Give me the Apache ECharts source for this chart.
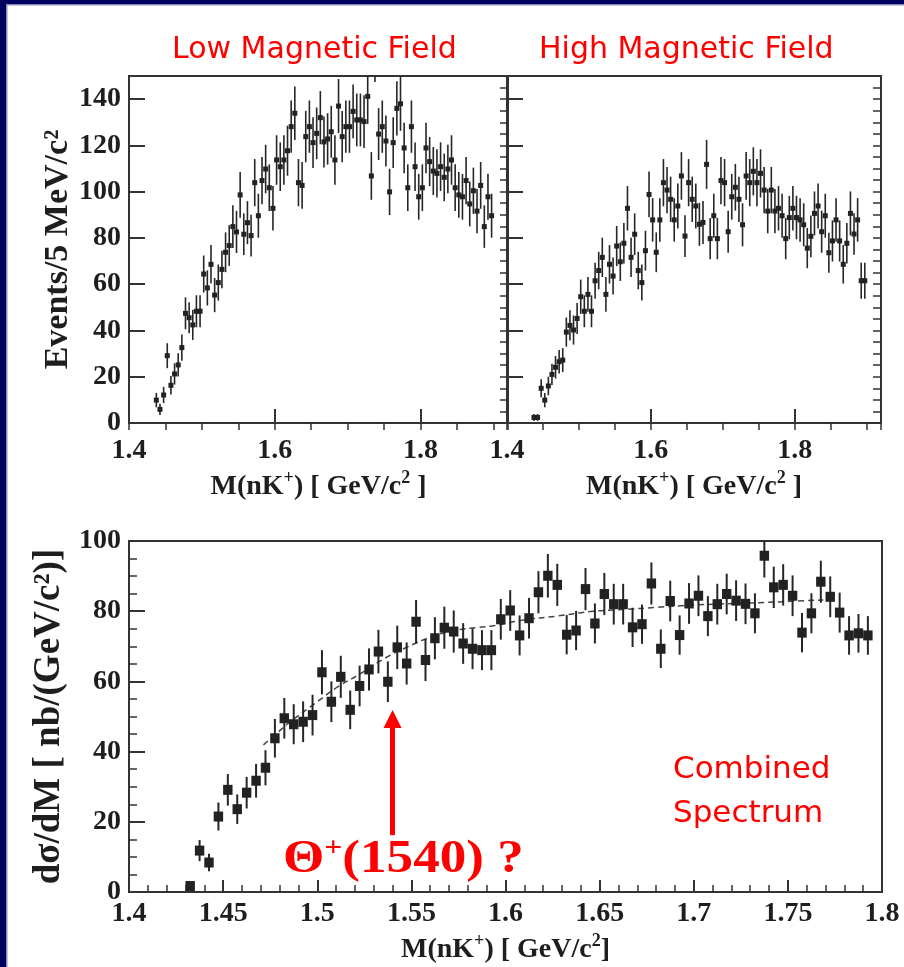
<!DOCTYPE html>
<html lang="en">
  <head>
    <meta charset="UTF-8">
    <title>nK+ invariant mass</title>
    <style>
      html, body { margin: 0; padding: 0; background: #fff; }
      .chart { width: 904px; height: 967px; }
    </style>
  </head>
  <body>
    <div id="chart" class="chart"></div>
    <script src="https://cdn.jsdelivr.net/npm/echarts@6/dist/echarts.min.js"></script>
    <script type="text/javascript">
      // bin centres (GeV/c^2), 5 MeV bins, shared by the two top panels
      var binCentres = [
        1.4375, 1.4425, 1.4475, 1.4525, 1.4575, 1.4625, 1.4675, 1.4725, 1.4775, 1.4825,
        1.4875, 1.4925, 1.4975, 1.5025, 1.5075, 1.5125, 1.5175, 1.5225, 1.5275, 1.5325,
        1.5375, 1.5425, 1.5475, 1.5525, 1.5575, 1.5625, 1.5675, 1.5725, 1.5775, 1.5825,
        1.5875, 1.5925, 1.5975, 1.6025, 1.6075, 1.6125, 1.6175, 1.6225, 1.6275, 1.6325,
        1.6375, 1.6425, 1.6475, 1.6525, 1.6575, 1.6625, 1.6675, 1.6725, 1.6775, 1.6825,
        1.6875, 1.6925, 1.6975, 1.7025, 1.7075, 1.7125, 1.7175, 1.7225, 1.7275, 1.7325,
        1.7375, 1.7425, 1.7475, 1.7525, 1.7575, 1.7625, 1.7675, 1.7725, 1.7775, 1.7825,
        1.7875, 1.7925, 1.7975, 1.8025, 1.8075, 1.8125, 1.8175, 1.8225, 1.8275, 1.8325,
        1.8375, 1.8425, 1.8475, 1.8525, 1.8575, 1.8625, 1.8675, 1.8725, 1.8775, 1.8825,
        1.8875, 1.8925, 1.8975
      ];
      // events / 5 MeV, low magnetic field
      var lowField = [
        9.9, 5.9, 12.1, 29.1, 16.3, 21.2, 25.1, 32.6, 47.4, 45.5,
        42.4, 48.3, 48.3, 64.4, 58.4, 68.6, 55.3, 60.7, 66.4, 73.8,
        76.7, 84.9, 82.6, 98.6, 81.6, 86.6, 81.0, 103.9, 89.6, 104.8,
        109.8, 101.7, 92.8, 113.7, 110.8, 113.7, 117.7, 128.1, 133.9, 103.9,
        102.7, 123.8, 128.1, 121.2, 125.2, 132.0, 121.5, 122.8, 125.9, 113.7,
        137.0, 123.8, 128.1, 128.1, 134.7, 131.0, 131.0, 130.3, 141.2, 106.8,
        160.0, 124.9, 128.1, 121.9, 99.9, 121.2, 136.0, 138.0, 118.9, 101.7,
        128.1, 110.8, 97.8, 101.7, 118.9, 113.0, 108.9, 107.9, 110.8, 106.2,
        109.8, 113.7, 101.7, 98.6, 97.8, 104.8, 94.7, 100.4, 91.6, 102.7,
        84.9, 97.8, 89.6
      ];
      var lowFieldErr = [
        3.1, 2.4, 3.5, 5.4, 4.0, 4.6, 5.0, 5.7, 6.9, 6.7,
        6.5, 6.9, 6.9, 8.0, 7.6, 8.3, 7.4, 7.8, 8.1, 8.6,
        8.8, 9.2, 9.1, 9.9, 9.0, 9.3, 9.0, 10.2, 9.5, 10.2,
        10.5, 10.1, 9.6, 10.7, 10.5, 10.7, 10.8, 11.3, 11.6, 10.2,
        10.1, 11.1, 11.3, 11.0, 11.2, 11.5, 11.0, 11.1, 11.2, 10.7,
        11.7, 11.1, 11.3, 11.3, 11.6, 11.4, 11.4, 11.4, 11.9, 10.3,
        12.6, 11.2, 11.3, 11.0, 10.0, 11.0, 11.7, 11.7, 10.9, 10.1,
        11.3, 10.5, 9.9, 10.1, 10.9, 10.6, 10.4, 10.4, 10.5, 10.3,
        10.5, 10.7, 10.1, 9.9, 9.9, 10.2, 9.7, 10.0, 9.6, 10.1,
        9.2, 9.9, 9.5
      ];
      // events / 5 MeV, high magnetic field
      var highField = [
        2.4, 2.4, 15.0, 9.9, 16.0, 21.0, 24.1, 26.5, 27.2, 39.3,
        42.2, 40.2, 45.2, 54.6, 48.3, 55.6, 48.3, 61.5, 65.9, 71.6,
        55.6, 68.6, 63.5, 76.5, 69.7, 77.7, 92.8, 71.6, 81.6, 65.9,
        60.7, 74.5, 98.8, 87.8, 73.8, 87.8, 103.9, 100.7, 96.7, 87.8,
        93.8, 106.8, 80.8, 103.9, 96.7, 93.8, 85.9, 86.7, 111.8, 79.7,
        89.6, 79.7, 104.8, 103.9, 82.7, 97.8, 101.9, 96.7, 85.7, 106.8,
        103.9, 108.8, 103.9, 107.9, 100.7, 91.6, 100.7, 91.6, 92.8, 89.6,
        79.7, 88.8, 92.8, 88.8, 87.8, 85.7, 75.6, 80.7, 90.6, 93.8,
        82.7, 89.6, 73.6, 78.7, 87.8, 78.7, 68.6, 77.7, 90.6, 81.7,
        87.8, 61.5, 61.5
      ];
      var highFieldErr = [
        1.5, 1.5, 3.9, 3.1, 4.0, 4.6, 4.9, 5.1, 5.2, 6.3,
        6.5, 6.3, 6.7, 7.4, 6.9, 7.5, 6.9, 7.8, 8.1, 8.5,
        7.5, 8.3, 8.0, 8.7, 8.3, 8.8, 9.6, 8.5, 9.0, 8.1,
        7.8, 8.6, 9.9, 9.4, 8.6, 9.4, 10.2, 10.0, 9.8, 9.4,
        9.7, 10.3, 9.0, 10.2, 9.8, 9.7, 9.3, 9.3, 10.6, 8.9,
        9.5, 8.9, 10.2, 10.2, 9.1, 9.9, 10.1, 9.8, 9.3, 10.3,
        10.2, 10.4, 10.2, 10.4, 10.0, 9.6, 10.0, 9.6, 9.6, 9.5,
        8.9, 9.4, 9.6, 9.4, 9.4, 9.3, 8.7, 9.0, 9.5, 9.7,
        9.1, 9.5, 8.6, 8.9, 9.4, 8.9, 8.3, 8.8, 9.5, 9.0,
        9.4, 7.8, 7.8
      ];
      // combined spectrum, d(sigma)/dM in nb/(GeV/c^2)
      var combMass = [
        1.4325, 1.4375, 1.4425, 1.4475, 1.4525, 1.4575, 1.4625, 1.4675, 1.4725, 1.4775,
        1.4825, 1.4875, 1.4925, 1.4975, 1.5025, 1.5075, 1.5125, 1.5175, 1.5225, 1.5275,
        1.5325, 1.5375, 1.5425, 1.5475, 1.5525, 1.5575, 1.5625, 1.5675, 1.5725, 1.5775,
        1.5825, 1.5875, 1.5925, 1.5975, 1.6025, 1.6075, 1.6125, 1.6175, 1.6225, 1.6275,
        1.6325, 1.6375, 1.6425, 1.6475, 1.6525, 1.6575, 1.6625, 1.6675, 1.6725, 1.6775,
        1.6825, 1.6875, 1.6925, 1.6975, 1.7025, 1.7075, 1.7125, 1.7175, 1.7225, 1.7275,
        1.7325, 1.7375, 1.7425, 1.7475, 1.7525, 1.7575, 1.7625, 1.7675, 1.7725, 1.7775,
        1.7825, 1.7875, 1.7925
      ];
      var combXsec = [
        1.7, 11.8, 8.4, 21.5, 29.1, 23.6, 28.3, 31.7, 35.4, 43.8,
        49.5, 47.8, 48.5, 50.4, 62.6, 54.2, 61.3, 51.9, 58.7, 63.4,
        68.5, 59.9, 69.7, 65.1, 77.0, 66.1, 72.3, 75.3, 74.2, 70.8,
        69.3, 68.9, 68.9, 77.7, 80.2, 73.1, 78.0, 85.4, 90.1, 87.5,
        73.3, 74.5, 86.3, 76.5, 84.9, 82.0, 82.0, 75.4, 76.3, 87.9,
        69.3, 82.9, 73.2, 82.2, 84.4, 78.6, 82.0, 84.9, 83.0, 82.1,
        79.4, 95.8, 86.8, 87.5, 84.4, 73.9, 79.4, 88.4, 84.1, 79.6,
        73.1, 73.7, 73.1
      ];
      var combErr = [
        0.8, 3.0, 2.5, 4.0, 4.5, 4.2, 4.5, 4.8, 5.0, 5.5,
        5.8, 5.7, 5.8, 5.8, 6.3, 5.8, 6.0, 5.5, 5.8, 6.0,
        6.2, 5.8, 6.2, 6.0, 6.2, 6.0, 6.0, 6.0, 6.0, 5.8,
        5.8, 5.7, 5.7, 5.8, 5.8, 5.7, 5.8, 6.0, 6.2, 6.0,
        5.6, 5.6, 6.0, 5.7, 6.0, 5.8, 5.8, 5.6, 5.6, 6.0,
        5.5, 5.8, 5.6, 5.8, 5.8, 5.7, 5.8, 5.8, 5.8, 5.8,
        5.7, 6.2, 5.9, 5.9, 5.8, 5.6, 5.7, 6.0, 5.8, 5.7,
        5.5, 5.5, 5.5
      ];
      // dashed background fit
      var fitMass = [1.4714, 1.4785, 1.4857, 1.50, 1.511, 1.5217, 1.5359, 1.5483, 1.5607, 1.5731, 1.5855,
                     1.5943, 1.6095, 1.6272, 1.645, 1.6626, 1.6803, 1.698, 1.7157, 1.7334, 1.7511, 1.7688];
      var fitXsec = [41.9, 45.2, 48.5, 54.2, 58.5, 61.8, 66.6, 69.9, 72.7, 74.5, 75.4,
                     75.9, 77.5, 78.6, 79.9, 80.5, 81.1, 81.7, 82.1, 82.4, 82.8, 83.2];
      // Theta+ arrow (mass, from, to)
      var thetaMass = 1.54;
      var arrowRange = [16.2, 49.3];

      var chart = echarts.init(document.getElementById('chart'));

      var serif = 'Liberation Serif';
      var ink = '#1e1e1e';
      var labelStyle = { fontFamily: serif, fontWeight: 'bold', fontSize: 28, color: ink };
      var supRich = { sup: { fontFamily: serif, fontWeight: 'bold', fontSize: 18, lineHeight: 18, verticalAlign: 'top', color: ink } };

      function zip3(xs, ys, es) {
        return xs.map(function (x, i) { return [x, ys[i], es[i]]; });
      }

      // square marker + vertical error bar; boxW in px (0 = one bin wide)
      function errRender(boxW, boxH, lineW, halfBin) {
        return function (params, api) {
          var x = api.value(0), y = api.value(1), e = api.value(2);
          var c = api.coord([x, y]);
          var l = api.coord([x - halfBin, y]);
          var r = api.coord([x + halfBin, y]);
          var t = api.coord([x, y + e]);
          var b = api.coord([x, y - e]);
          var w = boxW || (r[0] - l[0]);
          return {
            type: 'group',
            children: [
              { type: 'line', shape: { x1: c[0], y1: t[1], x2: c[0], y2: b[1] },
                style: { stroke: '#262626', lineWidth: lineW } },
              { type: 'rect', shape: { x: c[0] - w / 2, y: c[1] - boxH / 2, width: w, height: boxH },
                style: { fill: '#222' } }
            ]
          };
        };
      }

      function topXFmt(v) {
        var r = Math.round(v * 10) / 10;
        if (Math.abs(v - r) > 1e-6 || Math.round(r * 10) % 2 !== 0) return '';
        return r.toFixed(1);
      }
      function topYFmt(v) {
        return Math.round(v) % 20 === 0 ? String(Math.round(v)) : '';
      }

      function majorX(grid, showLabel, name) {
        return {
          type: 'value', gridIndex: grid, min: 1.4, max: 1.92, interval: 0.2,
          axisLine: { show: false }, splitLine: { show: false },
          axisTick: { inside: true, length: 14, lineStyle: { color: '#333', width: 2 } },
          axisLabel: Object.assign({ show: showLabel, margin: 14, formatter: topXFmt }, labelStyle),
          name: name, nameLocation: 'middle', nameGap: 46,
          nameTextStyle: Object.assign({ lineHeight: 36, rich: supRich }, labelStyle)
        };
      }
      function minorX(grid) {
        return {
          type: 'value', gridIndex: grid, min: 1.4, max: 1.92, interval: 0.05,
          axisLine: { show: false }, splitLine: { show: false }, axisLabel: { show: false },
          axisTick: { inside: true, length: 7, lineStyle: { color: '#333', width: 1.5 } }
        };
      }
      function majorY(grid, showLabel, name) {
        return {
          type: 'value', gridIndex: grid, min: 0, max: 150, interval: 20,
          axisLine: { show: false }, splitLine: { show: false },
          axisTick: { inside: true, length: 16, lineStyle: { color: '#333', width: 2 } },
          axisLabel: Object.assign({ show: showLabel, margin: 8, formatter: topYFmt }, labelStyle),
          name: name, nameLocation: 'middle', nameRotate: 90, nameGap: 54,
          nameTextStyle: Object.assign({}, labelStyle, { fontSize: 34 })
        };
      }
      function minorY(grid) {
        return {
          type: 'value', gridIndex: grid, min: 0, max: 150, interval: 5,
          axisLine: { show: false }, splitLine: { show: false }, axisLabel: { show: false },
          axisTick: { inside: true, length: 8, lineStyle: { color: '#333', width: 1.5 } }
        };
      }

      var gridBox = { show: true, borderColor: '#333', borderWidth: 2, backgroundColor: 'transparent',
                      containLabel: false, outerBoundsMode: 'none' };
      var redSans = 'DejaVu Sans';

      var option = {
        animation: false,
        backgroundColor: '#ffffff',
        grid: [
          Object.assign({ left: 129, top: 76, width: 379, height: 347 }, gridBox),
          Object.assign({ left: 507, top: 76, width: 374, height: 347 }, gridBox),
          Object.assign({ left: 129, top: 541, width: 753, height: 351 }, gridBox)
        ],
        xAxis: [
          majorX(0, true, 'M(nK{sup|+}) [ GeV/c{sup|2} ]'),
          minorX(0),
          majorX(1, true, 'M(nK{sup|+}) [ GeV/c{sup|2} ]'),
          minorX(1),
          {
            type: 'value', gridIndex: 2, min: 1.4, max: 1.8, interval: 0.05,
            axisLine: { show: false }, splitLine: { show: false },
            axisTick: { inside: true, length: 12, lineStyle: { color: '#333', width: 2 } },
            minorTick: { show: true, splitNumber: 5, length: 7, lineStyle: { color: '#333', width: 1.5 } },
            minorSplitLine: { show: false },
            axisLabel: Object.assign({ margin: 8 }, labelStyle),
            name: 'M(nK{sup|+}) [ GeV/c{sup|2}]', nameLocation: 'middle', nameGap: 40,
            nameTextStyle: Object.assign({ lineHeight: 36, rich: supRich }, labelStyle)
          }
        ],
        yAxis: [
          majorY(0, true, 'Events/5 MeV/c²'),
          minorY(0),
          majorY(1, false, ''),
          minorY(1),
          {
            type: 'value', gridIndex: 2, min: 0, max: 100, interval: 20,
            axisLine: { show: false }, splitLine: { show: false },
            axisTick: { inside: true, length: 16, lineStyle: { color: '#333', width: 2 } },
            minorTick: { show: true, splitNumber: 4, length: 8, lineStyle: { color: '#333', width: 1.5 } },
            minorSplitLine: { show: false },
            axisLabel: Object.assign({ margin: 8 }, labelStyle),
            name: 'dσ/dM [ nb/(GeV/c²)]', nameLocation: 'middle', nameRotate: 90, nameGap: 54,
            nameTextStyle: Object.assign({}, labelStyle, { fontSize: 37 })
          }
        ],
        series: [
          {
            name: 'low field', type: 'custom', xAxisIndex: 0, yAxisIndex: 0, clip: true,
            renderItem: errRender(5, 5, 1.6, 0.0025), encode: { x: 0, y: 1 },
            data: zip3(binCentres, lowField, lowFieldErr)
          },
          {
            name: 'high field', type: 'custom', xAxisIndex: 2, yAxisIndex: 2, clip: true,
            renderItem: errRender(5, 5, 1.6, 0.0025), encode: { x: 0, y: 1 },
            data: zip3(binCentres, highField, highFieldErr)
          },
          {
            name: 'fit', type: 'line', xAxisIndex: 4, yAxisIndex: 4, smooth: true, showSymbol: false,
            symbol: 'none', z: 1,
            lineStyle: { color: '#444', width: 1.5, type: [6, 4] },
            data: fitMass.map(function (m, i) { return [m, fitXsec[i]]; }),
            markLine: {
              silent: true, animation: false,
              symbol: ['none', 'triangle'], symbolSize: 18,
              label: { show: false },
              lineStyle: { color: '#ff0000', width: 5, type: 'solid' },
              data: [[{ coord: [thetaMass, arrowRange[0]] }, { coord: [thetaMass, arrowRange[1]] }]]
            }
          },
          {
            name: 'combined', type: 'custom', xAxisIndex: 4, yAxisIndex: 4, clip: true, z: 3,
            renderItem: errRender(0, 10, 2, 0.0025), encode: { x: 0, y: 1 },
            data: zip3(combMass, combXsec, combErr)
          }
        ],
        graphic: [
          { type: 'rect', shape: { x: 0, y: 0, width: 904, height: 4 }, style: { fill: '#00005e' }, silent: true },
          { type: 'rect', shape: { x: 0, y: 4, width: 904, height: 1.5 }, style: { fill: '#8a8ab8' }, silent: true },
          { type: 'rect', shape: { x: 0, y: 0, width: 6, height: 967 }, style: { fill: '#00005e' }, silent: true },
          { type: 'rect', shape: { x: 6, y: 4, width: 1.5, height: 963 }, style: { fill: '#8a8ab8' }, silent: true },
          { type: 'text', x: 172, y: 50, silent: true,
            style: { text: 'Low Magnetic Field', fontFamily: redSans, fontSize: 30, fill: '#ff0000', verticalAlign: 'middle' } },
          { type: 'text', x: 539, y: 50, silent: true,
            style: { text: 'High Magnetic Field', fontFamily: redSans, fontSize: 30, fill: '#ff0000', verticalAlign: 'middle' } },
          { type: 'text', x: 673, y: 748, silent: true,
            style: { text: 'Combined\nSpectrum', fontFamily: redSans, fontSize: 31, lineHeight: 44, fill: '#ff0000', verticalAlign: 'top' } },
          { type: 'text', x: 283, y: 860, scaleX: 1.13, silent: true, z: 10,
            style: {
              text: '{t|Θ}{s|+}{t|(1540) ?}', verticalAlign: 'middle',
              rich: {
                t: { fontFamily: serif, fontWeight: 'bold', fontSize: 47, lineHeight: 50, fill: '#ff0000', color: '#ff0000' },
                s: { fontFamily: serif, fontWeight: 'bold', fontSize: 28, lineHeight: 28, verticalAlign: 'top', fill: '#ff0000', color: '#ff0000' }
              }
            } }
        ]
      };

      chart.setOption(option);
    </script>
  </body>
</html>
